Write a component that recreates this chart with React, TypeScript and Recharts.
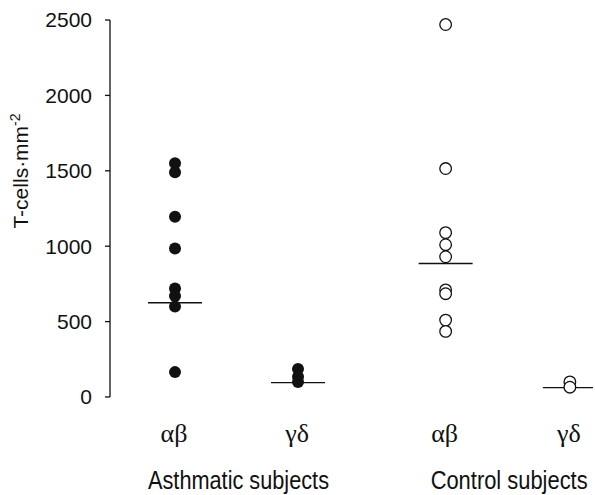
import React from 'react';
import { ScatterChart, Scatter, XAxis, YAxis } from 'recharts';

// column positions on the x scale (two groups, two receptor types each)
const subX = [1, 2, 3.2, 4.21];
const subLabels = ['αβ', 'γδ', 'αβ', 'γδ'];
const groupX = [1.5, 3.7];
const groupLabels = ['Asthmatic subjects', 'Control subjects'];
const groupLabelWidths = [181, 157];
const yTicks = [0, 500, 1000, 1500, 2000, 2500];

// T-cells per mm²
const asthmaticAB = [1550, 1490, 1195, 985, 720, 670, 600, 165];
const asthmaticGD = [185, 135, 100];
const controlAB = [2470, 1515, 1090, 1010, 930, 710, 685, 510, 435];
const controlGD = [100, 65];
const medians = [625, 95, 885, 62];

const toPoints = (vals: number[], x: number) => vals.map((y) => ({ x, y }));
const medianPoints = medians.map((y, i) => ({ x: subX[i], y }));

const FilledDot = (p: any) => <circle cx={p.cx} cy={p.cy} r={6} fill="#111" />;
const OpenDot = (p: any) => (
  <circle cx={p.cx} cy={p.cy} r={5.8} fill="#fff" stroke="#111" strokeWidth={1.3} />
);
const MedianBar = (p: any) => (
  <line x1={p.cx - 27} x2={p.cx + 27} y1={p.cy} y2={p.cy} stroke="#111" strokeWidth={1.4} />
);

const SubTick = ({ x, y, payload }: any) => {
  const i = subX.indexOf(payload.value);
  return (
    <text x={x - 1} y={y + 45} textAnchor="middle" fontFamily="'Liberation Serif', 'Times New Roman', serif" fontSize={26} fill="#111">
      {subLabels[i]}
    </text>
  );
};

const GroupTick = ({ x, y, payload }: any) => {
  const i = groupX.indexOf(payload.value);
  return (
    <text
      x={x + 2}
      y={y + 44}
      textAnchor="middle"
      fontFamily="'Liberation Sans', Arial, sans-serif"
      fontSize={25}
      textLength={groupLabelWidths[i]}
      lengthAdjust="spacingAndGlyphs"
      fill="#111"
    >
      {groupLabels[i]}
    </text>
  );
};

const YLabel = () => (
  <text
    transform="translate(28, 171) rotate(-90)"
    textAnchor="middle"
    fontFamily="'Liberation Sans', Arial, sans-serif"
    fontSize={21}
    fill="#111"
  >
    T-cells·mm<tspan dy={-8} fontSize={14}>-2</tspan>
  </text>
);

export default function App() {
  const domain: [number, number] = [0.4715, 4.398];
  return (
    <div style={{ position: 'absolute', left: 0, top: 0, width: 595, height: 495, background: '#fff' }}>
      <ScatterChart width={595} height={495} margin={{ top: 20, right: 2, left: 0, bottom: 0 }}>
        <XAxis
          xAxisId={0}
          dataKey="x"
          type="number"
          domain={domain}
          allowDataOverflow
          ticks={subX}
          interval={0}
          axisLine={false}
          tickLine={false}
          tickSize={0}
          tickMargin={0}
          height={48}
          tick={<SubTick />}
        />
        <XAxis
          xAxisId={1}
          dataKey="x"
          type="number"
          domain={domain}
          allowDataOverflow
          ticks={groupX}
          interval={0}
          axisLine={false}
          tickLine={false}
          tickSize={0}
          tickMargin={0}
          height={50}
          tick={<GroupTick />}
        />
        <YAxis
          dataKey="y"
          type="number"
          domain={[0, 2500]}
          ticks={yTicks}
          interval={0}
          width={110}
          tickSize={5}
          tickMargin={13}
          axisLine={{ stroke: '#111', strokeWidth: 1.3 }}
          tickLine={{ stroke: '#111', strokeWidth: 1.3 }}
          tick={{ fill: '#111', fontSize: 21, fontFamily: "'Liberation Sans', Arial, sans-serif" }}
          label={<YLabel />}
        />
        <Scatter xAxisId={0} data={medianPoints} shape={<MedianBar />} isAnimationActive={false} />
        <Scatter xAxisId={0} data={toPoints(asthmaticAB, subX[0])} shape={<FilledDot />} isAnimationActive={false} />
        <Scatter xAxisId={0} data={toPoints(asthmaticGD, subX[1])} shape={<FilledDot />} isAnimationActive={false} />
        <Scatter xAxisId={0} data={toPoints(controlAB, subX[2])} shape={<OpenDot />} isAnimationActive={false} />
        <Scatter xAxisId={0} data={toPoints(controlGD, subX[3])} shape={<OpenDot />} isAnimationActive={false} />
      </ScatterChart>
    </div>
  );
}
